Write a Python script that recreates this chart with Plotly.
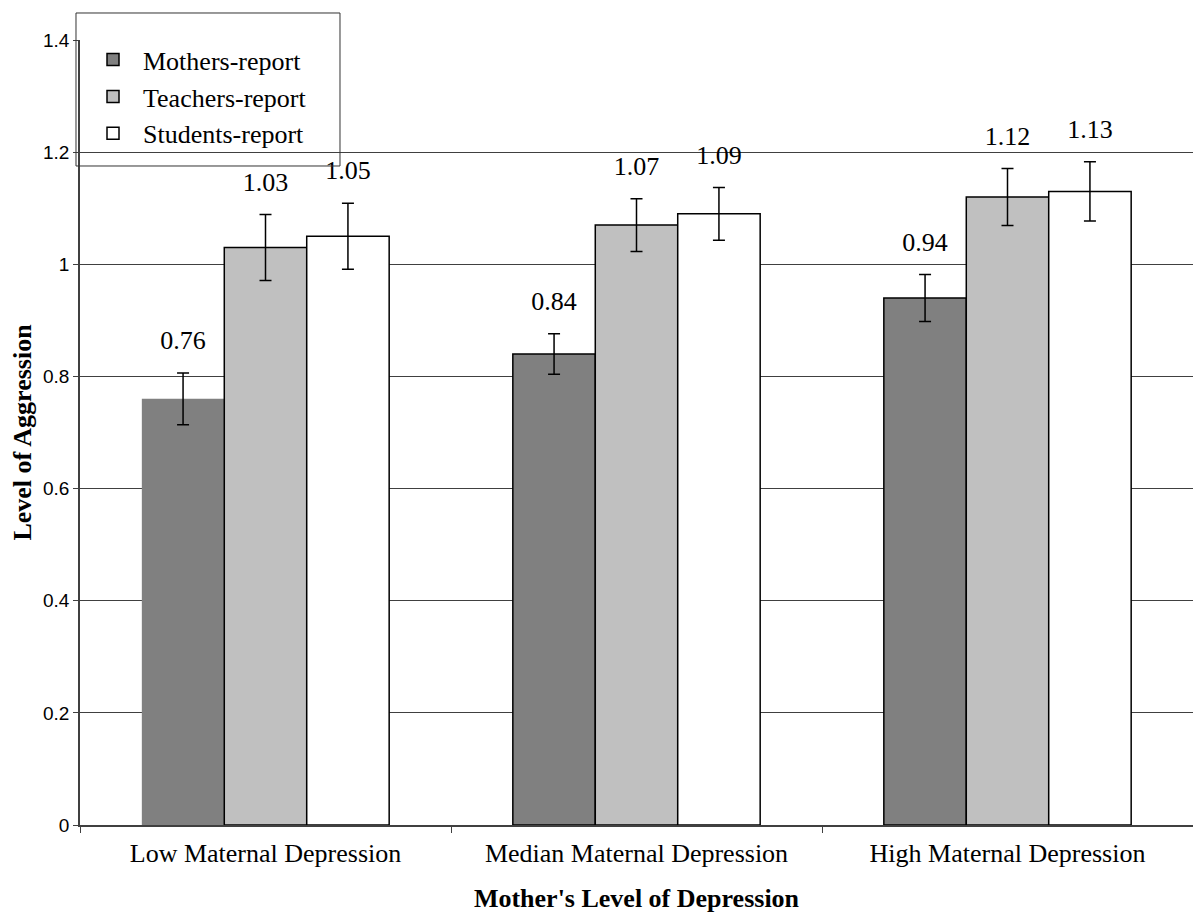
import plotly.graph_objects as go

categories = ["Low Maternal Depression", "Median Maternal Depression", "High Maternal Depression"]
series_names = ["Mothers-report", "Teachers-report", "Students-report"]
mothers = [0.76, 0.84, 0.94]
teachers = [1.03, 1.07, 1.12]
students = [1.05, 1.09, 1.13]
mothers_err = [0.046, 0.036, 0.042]
teachers_err = [0.059, 0.047, 0.051]
students_err = [0.059, 0.047, 0.053]
y_ticks = [0, 0.2, 0.4, 0.6, 0.8, 1, 1.2, 1.4]
y_tick_labels = ["0", "0.2", "0.4", "0.6", "0.8", "1", "1.2", "1.4"]

values = [mothers, teachers, students]
errors = [mothers_err, teachers_err, students_err]
colors = ["#808080", "#C0C0C0", "#FFFFFF"]
line_widths = [[0, 1.5, 1.5], [1.5, 1.5, 1.5], [1.5, 1.5, 1.5]]

w = 2 / 9.0
serif = "Liberation Serif, Times New Roman, serif"
sans = "Liberation Sans, Arial, sans-serif"

fig = go.Figure()
for j in range(3):
    xs = [i + (j - 1) * w for i in range(len(categories))]
    fig.add_trace(go.Bar(
        x=xs, y=values[j], width=w, name=series_names[j],
        marker=dict(color=colors[j], line=dict(color="black", width=line_widths[j])),
        error_y=dict(type="data", array=errors[j], visible=True, color="black",
                     thickness=1.5, width=6),
        showlegend=False,
    ))
# legend-only entries (no data drawn)
for j in range(3):
    fig.add_trace(go.Bar(
        x=[None], y=[None], name=series_names[j],
        marker=dict(color=colors[j], line=dict(color="black", width=1.5)),
        legendgroup=series_names[j], showlegend=True,
    ))
for j in range(3):
    xs = [i + (j - 1) * w for i in range(len(categories))]
    tops = [v + e for v, e in zip(values[j], errors[j])]
    fig.add_trace(go.Scatter(
        x=xs, y=tops, mode="markers+text", text=[f"{v:.2f}" for v in values[j]],
        marker=dict(size=26, opacity=0),
        textposition="top center", textfont=dict(family="Liberation Serif", size=26, color="black"),
        showlegend=False, hoverinfo="skip", cliponaxis=False,
    ))

# legend frame
fig.add_shape(type="rect", xref="paper", yref="paper",
              x0=-0.0036, x1=0.2336, y0=0.8395, y1=1.0344,
              line=dict(color="#333333", width=1), fillcolor="rgba(0,0,0,0)", layer="above")

fig.update_layout(
    width=1193, height=916,
    margin=dict(l=80, r=0, t=40, b=91),
    paper_bgcolor="white", plot_bgcolor="white",
    barmode="overlay",
    showlegend=True,
    legend=dict(
        x=0.0027, y=1.028, xanchor="left", yanchor="top",
        bgcolor="rgba(0,0,0,0)", borderwidth=0,
        font=dict(family=serif, size=26, color="black"),
        traceorder="grouped", tracegroupgap=0,
        itemwidth=50, entrywidth=230,
        title=dict(text="&nbsp;", font=dict(size=14)),
    ),
    xaxis=dict(
        range=[-0.5, 2.5],
        tickvals=[0, 1, 2], ticktext=categories,
        ticks="", showgrid=False, zeroline=False,
        showline=True, linecolor="#404040", linewidth=1.5,
        tickfont=dict(family=serif, size=26, color="black"),
        ticklabelstandoff=4,
        minor=dict(tickvals=[-0.5, 0.5, 1.5, 2.5], ticks="outside", ticklen=6,
                   tickcolor="#404040", showgrid=False),
        title=dict(text="<b>Mother's Level of Depression</b>",
                   font=dict(family=serif, size=26, color="black"), standoff=22),
        automargin=False,
    ),
    yaxis=dict(
        range=[0, 1.4], tickvals=y_ticks, ticktext=y_tick_labels,
        ticks="outside", ticklen=5, tickcolor="#404040",
        showgrid=True, gridcolor="#404040", gridwidth=1,
        zeroline=False, showline=True, linecolor="#404040", linewidth=1.5,
        tickfont=dict(family=sans, size=19, color="black"),
        title=dict(text="<b>Level of Aggression</b>",
                   font=dict(family=serif, size=26, color="black"), standoff=4),
        automargin=False,
    ),
)

fig.write_html("out.html", config={"displayModeBar": False},
               post_script="document.body.style.margin='0';document.body.style.overflow='hidden';")
